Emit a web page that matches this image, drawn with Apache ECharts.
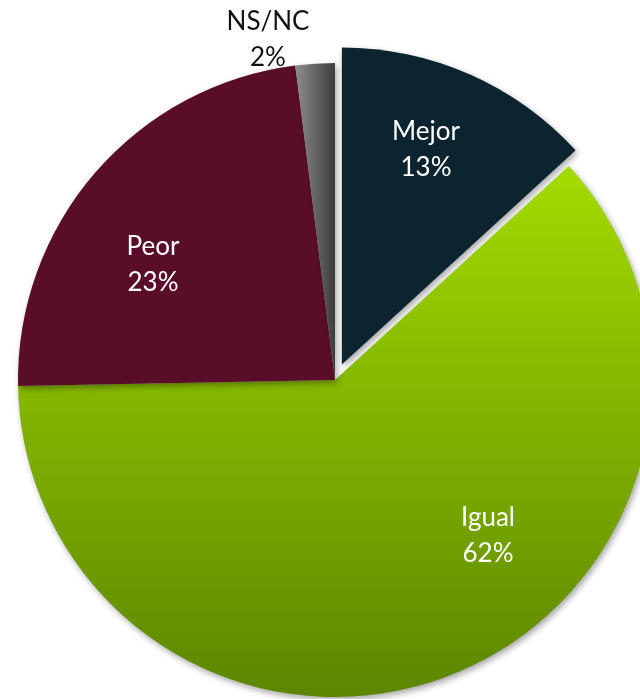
<!DOCTYPE html>
<html><head><meta charset="utf-8">
<script src="https://cdn.jsdelivr.net/npm/echarts@6/dist/echarts.min.js"></script>
<style>html,body{margin:0;padding:0;background:#fff}#c{width:640px;height:699px}</style>
</head><body><div id="c"></div>
<script>
const categories = ['Mejor', 'Igual', 'Peor', 'NS/NC'];
const values = [13.2, 61.5, 23.3, 2.0];

const styles = [
  {color: '#0b2430'},
  {color: {type: 'linear', x: 0, y: 0, x2: 0, y2: 1, colorStops: [{offset: 0, color: '#a3db00'}, {offset: 1, color: '#5c8600'}]}},
  {color: '#5a0d29'},
  {color: {type: 'linear', x: 0, y: 0, x2: 1, y2: 0, colorStops: [{offset: 0, color: '#8c8c8c'}, {offset: 1, color: '#3e3e3e'}]}}
];
const labelPos = [[426, 150], [488, 536], [153, 265], [268, 40]];
const labelColors = ['#ffffff', '#ffffff', '#ffffff', '#111111'];

const total = values.reduce((a, b) => a + b, 0);

const chart = echarts.init(document.getElementById('c'), null, {renderer: 'canvas'});
chart.setOption({
  animation: false,
  graphic: categories.map((n, i) => ({
    type: 'text',
    x: labelPos[i][0],
    y: labelPos[i][1],
    z: 100,
    style: {
      text: n + '\n' + Math.round(values[i] / total * 100) + '%',
      fill: labelColors[i],
      font: '26px Lato, "Open Sans", sans-serif',
      lineHeight: 36,
      align: 'center',
      verticalAlign: 'middle'
    }
  })),
  series: [{
    type: 'pie',
    center: [335, 380],
    radius: 317,
    startAngle: 90,
    clockwise: true,
    selectedMode: 'single',
    selectedOffset: 17,
    emphasis: {disabled: true},
    itemStyle: {shadowBlur: 6, shadowColor: 'rgba(0,0,0,0.35)', shadowOffsetX: 2, shadowOffsetY: 3},
    label: {show: false},
    labelLine: {show: false},
    data: categories.map((n, i) => ({
      name: n,
      value: values[i],
      selected: i === 0,
      itemStyle: styles[i]
    }))
  }]
});
</script></body></html>
